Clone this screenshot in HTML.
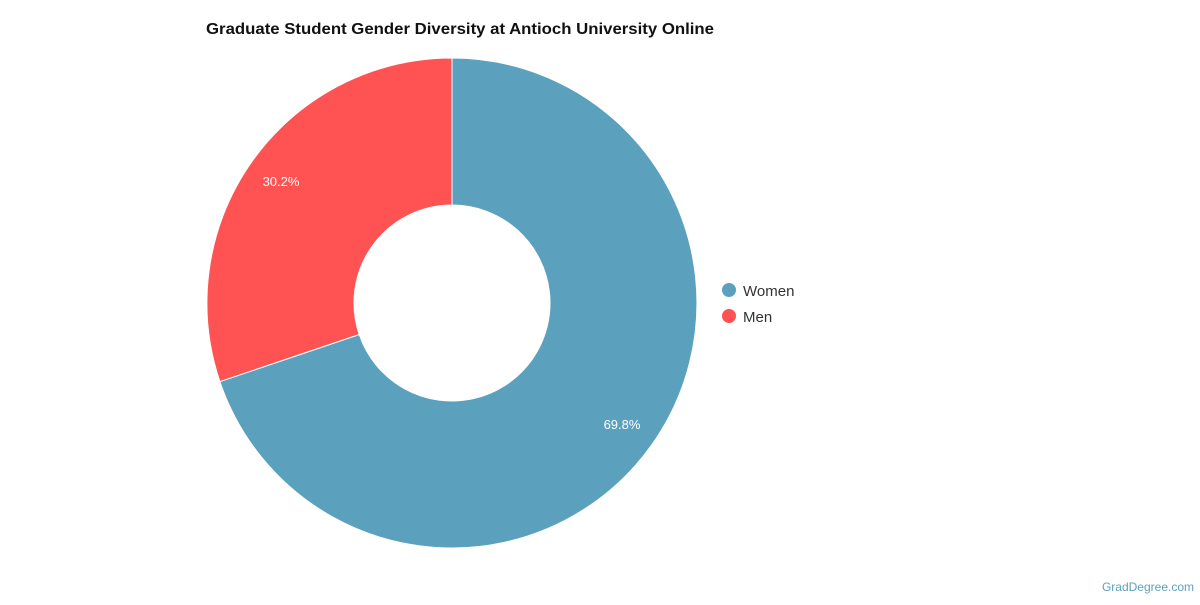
<!DOCTYPE html>
<html><head><meta charset="utf-8"><style>
body{margin:0;width:1200px;height:600px;background:#fff;overflow:hidden;font-family:"Liberation Sans",Roboto,sans-serif}
</style></head><body>
<svg width="1200" height="600" xmlns="http://www.w3.org/2000/svg">
<text x="206" y="34" font-family="Liberation Sans, sans-serif" font-weight="bold" font-size="16" fill="#111" textLength="508" lengthAdjust="spacingAndGlyphs">Graduate Student Gender Diversity at Antioch University Online</text>
<path d="M452,58 A245,245 0 1 1 219.9,381.6 L359.2,334.5 A98,98 0 1 0 452,205 Z" fill="#5ba1bd" stroke="#fff" stroke-width="1"/>
<path d="M219.9,381.6 A245,245 0 0 1 452,58 L452,205 A98,98 0 0 0 359.2,334.5 Z" fill="#ff5252" stroke="#fff" stroke-width="1"/>
<text x="281" y="186" text-anchor="middle" font-size="13" fill="#fff" font-family="Liberation Sans, sans-serif">30.2%</text>
<text x="622" y="429" text-anchor="middle" font-size="13" fill="#fff" font-family="Liberation Sans, sans-serif">69.8%</text>
<circle cx="729" cy="290" r="7" fill="#5ba1bd"/>
<text x="743" y="296" font-size="15" fill="#333" font-family="Liberation Sans, sans-serif">Women</text>
<circle cx="729" cy="316" r="7" fill="#ff5252"/>
<text x="743" y="322" font-size="15" fill="#333" font-family="Liberation Sans, sans-serif">Men</text>
<text x="1194" y="591" text-anchor="end" font-size="12" fill="#5ba1bd" font-family="Liberation Sans, sans-serif">GradDegree.com</text>
</svg>
</body></html>
